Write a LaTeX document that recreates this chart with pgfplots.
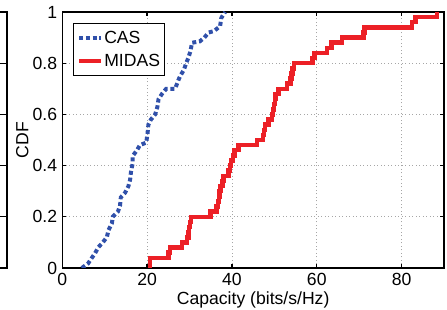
\documentclass[border=0pt]{standalone}
\usepackage{fontspec}
\setmainfont{Liberation Sans}
\usepackage{pgfplots}
\pgfplotsset{compat=1.18}
\definecolor{casblue}{RGB}{48,80,170}
\definecolor{midasred}{RGB}{236,32,38}
\pgfplotsset{every axis/.append style={font=\fontsize{17.6}{21}\selectfont}}
\begin{document}
\begin{tikzpicture}[font=\fontsize{17.6}{21}\selectfont]
\useasboundingbox (-62.3pt,-42pt) rectangle (384.7pt,268pt);
\clip (-62.3pt,-42pt) rectangle (384.7pt,268pt);
% right edge of the neighbouring panel
\begin{axis}[
  scale only axis, width=200pt, height=256pt,
  at={(-55.3pt,0pt)}, anchor=south east,
  xmin=0, xmax=1, ymin=0, ymax=1,
  xtick=\empty, ytick={0.2,0.4,0.6,0.8}, yticklabels={},
  tick align=inside, major tick length=8pt,
  axis line style={line width=1.3pt},
  every tick/.style={black, line width=1.3pt},
]
\addplot[draw=none] coordinates {(0.5,0.5)};
\end{axis}
\begin{axis}[
  name=main, scale only axis, width=381.7pt, height=256pt,
  at={(0pt,0pt)}, anchor=south west,
  xmin=0, xmax=90, ymin=0, ymax=1,
  xtick={0,20,40,60,80}, ytick={0,0.2,0.4,0.6,0.8,1},
  tick align=inside, major tick length=4pt,
  axis line style={line width=1.3pt},
  every tick/.style={black, line width=1.3pt},
  grid=major, major grid style={gray!70, line width=0.7pt, dash pattern=on 1pt off 2.5pt},
  /pgf/number format/assume math mode=true,
  xticklabel style={anchor=base, inner sep=0pt, yshift=-18pt},
  yticklabel style={anchor=east, inner sep=0pt, xshift=-5pt},
  xlabel={Capacity (bits/s/Hz)}, ylabel={CDF},
  xlabel style={at={(axis description cs:0.5,-0.1445)}, anchor=base, inner sep=0pt},
  ylabel style={at={(axis description cs:-0.0886,0.5)}, anchor=base, inner sep=0pt},
  legend style={at={(0.0272,0.956)}, anchor=north west, draw=black, line width=1.2pt,
    inner xsep=3.5pt, inner ysep=6.5pt, row sep=7pt, cells={anchor=west},
    nodes={inner sep=1pt}, font=\fontsize{17.6}{21}\selectfont},
  legend image code/.code={\draw[#1] (0pt,0pt) -- (22pt,0pt);},
]
\addplot[casblue, line width=4pt, dash pattern=on 4pt off 2.8pt, line cap=butt] coordinates {
(4.6,0) (6.1,0.018) (6.9,0.038) (7.7,0.057) (8.5,0.081) (9.5,0.099) (10.5,0.12)
(10.9,0.148) (11.7,0.175) (11.9,0.2) (13.1,0.22) (13.6,0.242) (13.8,0.276)
(14.8,0.294) (15.6,0.32) (16.0,0.346) (16.2,0.376) (16.6,0.41) (16.6,0.4375)
(17.6,0.46) (18.3,0.48) (19.8,0.49) (20.1,0.526) (20.3,0.56) (20.9,0.58)
(21.9,0.60) (22.4,0.628) (22.7,0.66) (23.5,0.68) (24.5,0.70) (26.6,0.70)
(27.4,0.735) (27.8,0.75) (28.7,0.775) (29.2,0.80) (29.7,0.82) (30.2,0.846)
(30.6,0.88) (32.4,0.885) (33.5,0.90) (34.5,0.92) (35.7,0.925) (37.2,0.944)
(37.5,0.977) (38.0,0.99) (38.4,1.0)
};
\addlegendentry{CAS}
\addplot[midasred, line width=4.5pt, const plot, line join=miter] coordinates {
(20.7,0) (20.7,0.04) (25.0,0.06) (25.4,0.08) (28.2,0.10) (29.4,0.12) (29.7,0.14)
(29.9,0.16) (30.1,0.18) (30.3,0.20) (34.9,0.22) (36.4,0.24) (36.7,0.26) (36.9,0.28)
(37.1,0.30) (37.3,0.32) (37.8,0.34) (38.0,0.36) (39.2,0.38) (39.6,0.40) (39.8,0.42)
(40.3,0.44) (40.6,0.46) (41.5,0.48) (45.9,0.50) (47.3,0.52) (47.5,0.54) (47.8,0.56)
(48.6,0.58) (49.4,0.60) (49.7,0.62) (49.9,0.64) (50.1,0.66) (50.3,0.68) (51.0,0.70)
(53.0,0.72) (53.8,0.74) (54.1,0.76) (54.3,0.78) (54.6,0.80) (59.0,0.82) (59.5,0.84)
(62.4,0.86) (63.5,0.88) (66.0,0.90) (71.0,0.92) (71.2,0.94) (82.5,0.96) (83.3,0.98)
(88.4,1.00)
};
\addlegendentry{MIDAS}
\end{axis}
\end{tikzpicture}
\end{document}
